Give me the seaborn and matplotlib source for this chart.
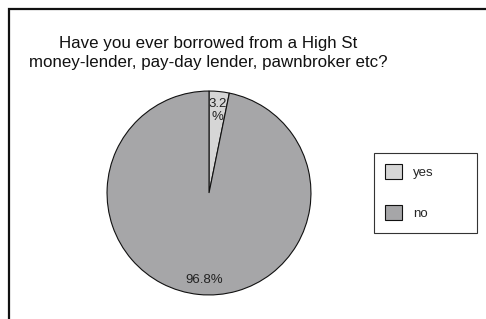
import matplotlib
matplotlib.use("Agg")
import matplotlib.pyplot as plt
from matplotlib.patches import Rectangle
import seaborn as sns

labels = ["yes", "no"]
values = [3.2, 96.8]
colors = ["#d6d6d6", "#a6a6a8"]
title = "Have you ever borrowed from a High St\nmoney-lender, pay-day lender, pawnbroker etc?"

sns.set_theme(style="white")
plt.rcParams["font.family"] = ["Liberation Sans", "DejaVu Sans"]

W, H = 486, 319
fig = plt.figure(figsize=(W / 100, H / 100), dpi=100)
fig.patch.set_facecolor("white")

# outer frame, runs off right and bottom edges
fig.add_artist(Rectangle((9 / W, -0.1), 1.2, 1 - 9 / H + 0.1, transform=fig.transFigure,
                         fill=False, edgecolor="#111111", linewidth=1.6))

# pie centred at (209, 193) px, radius ~104 px
r = 104
cx, cy = 209, 193
ax = fig.add_axes([(cx - r) / W, 1 - (cy + r) / H, 2 * r / W, 2 * r / H])
wedges, texts, autotexts = ax.pie(
    values, colors=colors, startangle=90, counterclock=False,
    autopct="%.1f%%", pctdistance=0.83,
    wedgeprops=dict(edgecolor="#111111", linewidth=0.8),
    textprops=dict(fontsize=9.5, color="#222222"),
)
autotexts[0].set_text(f"{values[0]:.1f}\n%")
autotexts[0].set_linespacing(1.05)
autotexts[0].set_position((0.085, 0.81))
autotexts[1].set_position((-0.05, -0.85))
ax.set_aspect("equal")
ax.set_xlim(-1.02, 1.02)
ax.set_ylim(-1.02, 1.02)

fig.text(208 / W, 1 - 53 / H, title, ha="center", va="center", fontsize=12.2,
         color="#111111", linespacing=1.35)

# legend box
fig.add_artist(Rectangle((374 / W, 1 - 233 / H), 103 / W, 80 / H, transform=fig.transFigure,
                         fill=False, edgecolor="#333333", linewidth=0.8))
fig.legend(wedges, labels, loc="upper left", bbox_to_anchor=(374 / W, 1 - 153 / H),
           frameon=False, fontsize=9.5, handlelength=1.3, handleheight=1.3,
           labelspacing=2.0, borderpad=0.85, handletextpad=0.8, borderaxespad=0)

fig.savefig("out.png", dpi=100, facecolor="white")
